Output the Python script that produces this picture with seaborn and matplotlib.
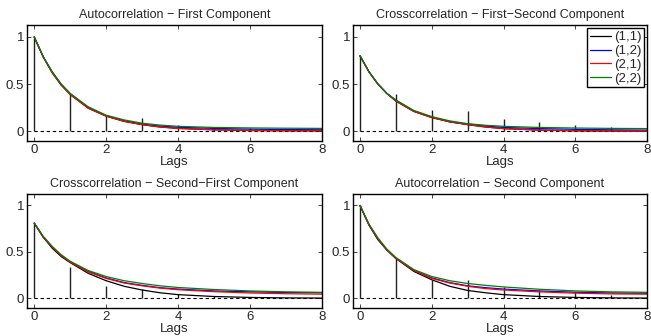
import seaborn as sns
import pandas as pd
from matplotlib import pyplot as plt

# lags where the stems are drawn
lags = [0, 1, 2, 3, 4, 5, 6, 7, 8]
# points
grid = [0, 0.25, 0.5, 0.75, 1, 1.5, 2, 2.5, 3, 3.5, 4, 5, 6, 7, 8]

series = ['(1,1)', '(1,2)', '(2,1)', '(2,2)']
colors = ['black', 'blue', 'red', 'green']

titles = ['Autocorrelation \u2212 First Component',
          'Crosscorrelation \u2212 First\u2212Second Component',
          'Crosscorrelation \u2212 Second\u2212First Component',
          'Autocorrelation \u2212 Second Component']

# sample correlations (stems)
stem_11 = [1.0, 0.39, 0.17, 0.14, 0.07, 0.05, 0.03, 0.01, 0.0]
stem_12 = [0.8, 0.39, 0.22, 0.21, 0.135, 0.10, 0.07, 0.04, 0.02]
stem_21 = [0.81, 0.34, 0.13, 0.105, 0.05, 0.03, 0.01, 0.0, 0.0]
stem_22 = [1.0, 0.43, 0.20, 0.195, 0.12, 0.09, 0.064, 0.04, 0.02]

# model curves, panel 1
p1_k = [1.0, 0.79, 0.62, 0.49, 0.39, 0.245, 0.16, 0.105, 0.07, 0.045, 0.03, 0.015, 0.008, 0.005, 0.004]
p1_b = [1.0, 0.79, 0.63, 0.50, 0.40, 0.25, 0.165, 0.11, 0.075, 0.055, 0.042, 0.03, 0.022, 0.018, 0.015]
p1_r = [1.0, 0.79, 0.62, 0.49, 0.39, 0.245, 0.16, 0.105, 0.07, 0.045, 0.03, 0.015, 0.008, 0.005, 0.004]
p1_g = [1.0, 0.79, 0.63, 0.50, 0.40, 0.26, 0.17, 0.12, 0.085, 0.065, 0.052, 0.04, 0.035, 0.032, 0.03]
# panel 2
p2_k = [0.8, 0.63, 0.50, 0.40, 0.32, 0.21, 0.145, 0.10, 0.07, 0.045, 0.028, 0.012, 0.005, 0.002, 0.0]
p2_b = [0.8, 0.63, 0.50, 0.40, 0.33, 0.215, 0.15, 0.10, 0.075, 0.055, 0.04, 0.028, 0.02, 0.015, 0.012]
p2_r = [0.8, 0.63, 0.50, 0.40, 0.32, 0.21, 0.145, 0.10, 0.07, 0.045, 0.028, 0.012, 0.005, 0.002, 0.0]
p2_g = [0.8, 0.63, 0.50, 0.40, 0.33, 0.22, 0.155, 0.11, 0.08, 0.063, 0.052, 0.04, 0.034, 0.03, 0.028]
# panel 3
p3_k = [0.81, 0.66, 0.54, 0.45, 0.385, 0.27, 0.19, 0.13, 0.09, 0.06, 0.04, 0.02, 0.01, 0.005, 0.003]
p3_b = [0.81, 0.66, 0.55, 0.46, 0.39, 0.29, 0.22, 0.17, 0.14, 0.115, 0.10, 0.08, 0.07, 0.063, 0.06]
p3_r = [0.81, 0.66, 0.55, 0.46, 0.39, 0.285, 0.215, 0.165, 0.135, 0.11, 0.093, 0.072, 0.058, 0.05, 0.045]
p3_g = [0.81, 0.67, 0.56, 0.47, 0.40, 0.30, 0.235, 0.19, 0.16, 0.135, 0.117, 0.095, 0.08, 0.07, 0.065]
# panel 4
p4_k = [1.0, 0.79, 0.63, 0.52, 0.43, 0.29, 0.20, 0.13, 0.085, 0.06, 0.04, 0.02, 0.01, 0.005, 0.003]
p4_b = [1.0, 0.79, 0.64, 0.52, 0.43, 0.30, 0.22, 0.17, 0.135, 0.115, 0.10, 0.08, 0.066, 0.058, 0.055]
p4_r = [1.0, 0.79, 0.64, 0.52, 0.43, 0.30, 0.215, 0.165, 0.13, 0.105, 0.09, 0.07, 0.056, 0.048, 0.045]
p4_g = [1.0, 0.80, 0.65, 0.53, 0.44, 0.31, 0.235, 0.19, 0.16, 0.14, 0.123, 0.098, 0.08, 0.07, 0.065]

stems = [stem_11, stem_12, stem_21, stem_22]
curves = [[p1_k, p1_b, p1_r, p1_g],
          [p2_k, p2_b, p2_r, p2_g],
          [p3_k, p3_b, p3_r, p3_g],
          [p4_k, p4_b, p4_r, p4_g]]

sns.set_style('ticks')
plt.rcParams['font.family'] = ['Liberation Sans', 'DejaVu Sans']
plt.rcParams['xtick.direction'] = 'in'
plt.rcParams['ytick.direction'] = 'in'

fig = plt.figure(figsize=(6.51, 3.36), dpi=100)
boxes = [[0.0415, 0.580, 0.453, 0.345],
         [0.542, 0.580, 0.452, 0.345],
         [0.0415, 0.083, 0.453, 0.340],
         [0.542, 0.083, 0.452, 0.340]]

for k in range(4):
    ax = fig.add_axes(boxes[k])
    # sample correlations as stems
    ax.vlines(lags, 0, stems[k], color='#222222', lw=1.0)
    ax.plot([lags[0], lags[-1]], [0, 0], ls='--', color='black', lw=0.8, dashes=(3, 2.5))
    # model curves
    df = pd.DataFrame({'lag': grid * 4,
                       'value': sum(curves[k], []),
                       'series': [s for s in series for _ in grid]})
    sns.lineplot(data=df, x='lag', y='value', hue='series', palette=colors,
                 hue_order=series, lw=0.9, ax=ax, legend=(k == 1))
    ax.set_xlim(-0.2, 8)
    ax.set_ylim(-0.105, 1.125)
    ax.set_xticks([0, 2, 4, 6, 8])
    ax.set_yticks([0, 0.5, 1])
    ax.set_yticklabels(['0', '0.5', '1'])
    ax.tick_params(top=True, right=True, length=3, width=0.6, labelsize=9.5, pad=2)
    ax.set_xlabel('Lags', fontsize=9.5, labelpad=0)
    ax.set_ylabel('')
    ax.set_title(titles[k], fontsize=9, pad=5)
    for sp in ax.spines.values():
        sp.set_linewidth(1.0)
        sp.set_color('black')
    if k == 1:
        leg = ax.legend(loc='upper right', fontsize=9.5, handlelength=1.6, handletextpad=0.2,
                        borderpad=0.2, labelspacing=0.12, borderaxespad=0.25,
                        fancybox=False, framealpha=1)
        leg.get_frame().set_edgecolor('black')
        leg.get_frame().set_linewidth(1.0)

fig.savefig('out.png', dpi=100)
